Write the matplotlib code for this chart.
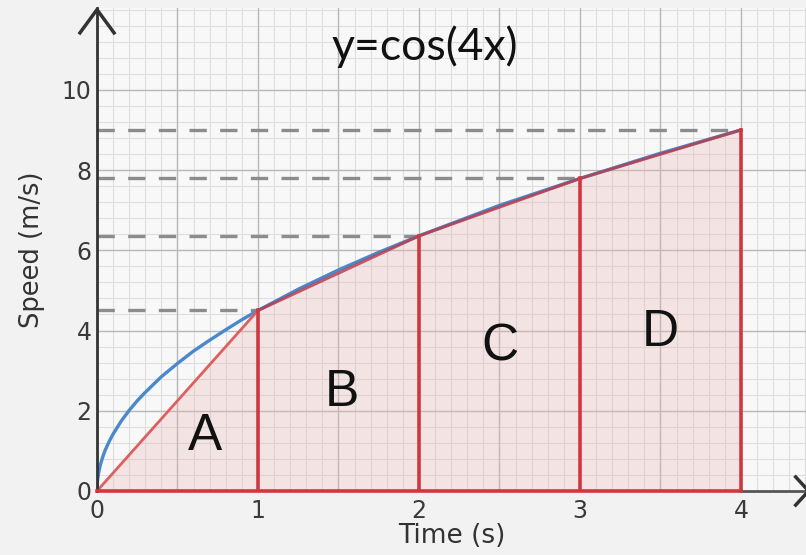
import numpy as np
import matplotlib.pyplot as plt
from matplotlib.ticker import MultipleLocator

# Blue curve: speed
curve_t = [0, 0.003, 0.01, 0.02, 0.035, 0.05, 0.075, 0.1, 0.15, 0.2, 0.25, 0.3, 0.4, 0.5,
           0.6, 0.7, 0.8, 0.9, 1.0, 1.25, 1.5, 1.75, 2.0, 2.5, 3.0, 3.5, 4.0]
curve_v = [0, 0.25, 0.45, 0.64, 0.84, 1.01, 1.23, 1.42, 1.74, 2.01, 2.25, 2.46, 2.85, 3.18,
           3.49, 3.76, 4.02, 4.27, 4.5, 5.03, 5.51, 5.95, 6.36, 7.12, 7.79, 8.42, 9.0]

# Chord points (trapezium corners)
chord_t = [0, 1, 2, 3, 4]
chord_v = [0, 4.5, 6.36, 7.79, 9.0]

region_labels = ["A", "B", "C", "D"]
label_pos = [(0.67, 1.35), (1.52, 2.45), (2.5, 3.6), (3.5, 3.95)]

x_ticks = [0, 1, 2, 3, 4]
y_ticks = [0, 2, 4, 6, 8, 10]

fig = plt.figure(figsize=(8.06, 5.55), dpi=100)
fig.patch.set_facecolor("#f2f2f2")
ax = fig.add_axes([97 / 806, 64 / 555, 709 / 806, 483 / 555])
ax.set_facecolor("#f8f8f8")
ax.set_xlim(0, 4.404)
ax.set_ylim(0, 12.04)

# grid
ax.xaxis.set_minor_locator(MultipleLocator(0.1))
ax.yaxis.set_minor_locator(MultipleLocator(0.4))
ax.grid(which="minor", color="#dedede", linewidth=0.8)
ax.set_axisbelow(True)
ax.tick_params(which="both", length=0)
ax.set_xticks(x_ticks)
ax.set_yticks(y_ticks)
ax.set_xticklabels([str(t) for t in x_ticks], fontsize=17, color="#3a3a3a")
ax.set_yticklabels([str(t) for t in y_ticks], fontsize=17, color="#3a3a3a")
ax.tick_params(axis="x", pad=6)
ax.tick_params(axis="y", pad=4)
for xv in np.arange(0.5, 4.5, 0.5):
    ax.axvline(xv, color="#b8b8b8", linewidth=1.0, zorder=0.8)
for yv in np.arange(2, 12, 2):
    ax.axhline(yv, color="#b8b8b8", linewidth=1.0, zorder=0.8)

for s in ax.spines.values():
    s.set_visible(False)

# shaded trapezia
ax.fill_between(chord_t, chord_v, 0, color="#e8b4b4", alpha=0.3, linewidth=0, zorder=1)

# dashed guides
for t, v in zip(chord_t[1:], chord_v[1:]):
    ax.plot([0, t], [v, v], color="#8c8c8c", linestyle=(0, (5.2, 4)), linewidth=2.4, zorder=2)

# blue curve
ax.plot(curve_t, curve_v, color="#4a88cc", linewidth=2.4, zorder=3)

# chords
ax.plot(chord_t[:2], chord_v[:2], color="#dd6060", linewidth=2.0, zorder=4)
ax.plot(chord_t[1:], chord_v[1:], color="#b8404f", linewidth=2.2, alpha=0.85, zorder=4)
for t, v in zip(chord_t[1:], chord_v[1:]):
    ax.plot([t, t], [0, v], color="#d03840", linewidth=2.6, zorder=4)

# axes lines
ax.plot([0, 0], [0, 12.04], color="#333333", linewidth=2, clip_on=False, zorder=5)
ax.plot([4, 4.42], [0, 0], color="#555555", linewidth=2, clip_on=False, zorder=5)
ax.plot([0, 4], [0, 0], color="#d03840", linewidth=2.6, clip_on=False, zorder=6)

# arrow heads
ax.plot([-0.106, 0, 0.106], [11.42, 12.0, 11.42], color="#333333", linewidth=2.5,
        clip_on=False, zorder=5)
ax.plot([4.34, 4.42, 4.34], [0.35, 0, -0.35], color="#333333", linewidth=2.5,
        clip_on=False, zorder=5)

for lab, (x, y) in zip(region_labels, label_pos):
    ax.text(x, y, lab, fontsize=37, ha="center", va="center", color="#111111",
            family="Liberation Sans", zorder=7)

ax.set_xlabel("Time (s)", fontsize=19, color="#333333", labelpad=0)
ax.set_ylabel("Speed (m/s)", fontsize=18.5, color="#333333", labelpad=12)

fig.text(425 / 806, 1 - 47 / 555, "y=cos(4x)", fontsize=32, ha="center", va="center",
         family="Lato", color="#111111")

plt.savefig("out.png", dpi=100, facecolor=fig.get_facecolor())
